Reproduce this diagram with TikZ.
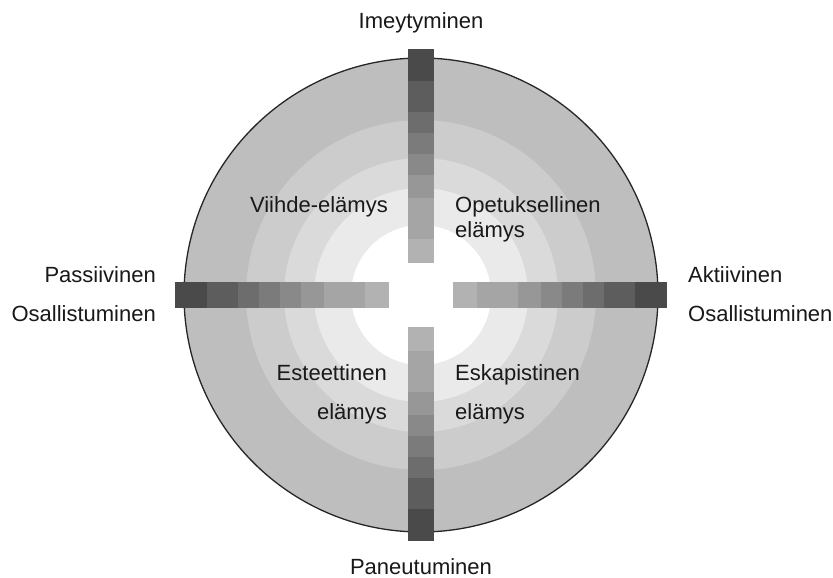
\documentclass[tikz,border=0pt]{standalone}
\usepackage{fontspec}
\setmainfont{Liberation Sans}
\definecolor{ringA}{HTML}{BEBEBE}
\definecolor{ringB}{HTML}{CCCCCC}
\definecolor{ringC}{HTML}{DADADA}
\definecolor{ringD}{HTML}{EAEAEA}
\definecolor{barA}{HTML}{B2B2B2}
\definecolor{barB}{HTML}{A5A5A5}
\definecolor{barC}{HTML}{979797}
\definecolor{barD}{HTML}{898989}
\definecolor{barE}{HTML}{7B7B7B}
\definecolor{barF}{HTML}{6D6D6D}
\definecolor{barG}{HTML}{5D5D5D}
\definecolor{barH}{HTML}{4A4A4A}
\begin{document}
\begin{tikzpicture}[x=1pt,y=-1pt,
  lbl/.style={font=\fontsize{22}{26}\selectfont, inner sep=0pt, text=black!90}]
\useasboundingbox (0,0) rectangle (833,578);
\fill[white] (0,0) rectangle (833,578);
\coordinate (c) at (421,295);
% concentric shading rings, darkest outside
\fill[ringA] (c) circle (237);
\fill[ringB] (c) circle (175);
\fill[ringC] (c) circle (137);
\fill[ringD] (c) circle (107);
\fill[white] (c) circle (70);
\draw[line width=1.3pt, black!85] (c) circle (237);
% four graded bars, light near the centre, dark at the outer end
\foreach \ang in {0,90,180,270}{
  \begin{scope}[shift={(421,295)}, rotate=\ang]
    \foreach \a/\b/\col in {32/56/barA, 56/97/barB, 97/120/barC, 120/141/barD,
                            141/162/barE, 162/183/barF, 183/214/barG, 214/246/barH}{
      \fill[\col] (-13,-\a) rectangle (13,-\b);
    }
  \end{scope}
}
% axis labels
\node[lbl, anchor=base] (imey) at (421,29) {Imeytyminen};
\node[lbl, anchor=base] (pane) at (421,574) {Paneutuminen};
\node[lbl, anchor=base east] (pass) at (156,282) {Passiivinen};
\node[lbl, anchor=base east] (osavas) at (156,321) {Osallistuminen};
\node[lbl, anchor=base west] (akti) at (688,282) {Aktiivinen};
\node[lbl, anchor=base west] (osaoik) at (688,321) {Osallistuminen};
% quadrant labels
\node[lbl, anchor=base east] (viihde) at (388,212) {Viihde-elämys};
\node[lbl, anchor=base west] (opet) at (455,212) {Opetuksellinen};
\node[lbl, anchor=base west] (opetel) at (455,237) {elämys};
\node[lbl, anchor=base east] (este) at (387,380) {Esteettinen};
\node[lbl, anchor=base east] (esteel) at (387,419) {elämys};
\node[lbl, anchor=base west] (eska) at (455,380) {Eskapistinen};
\node[lbl, anchor=base west] (eskael) at (455,419) {elämys};
\end{tikzpicture}
\end{document}
